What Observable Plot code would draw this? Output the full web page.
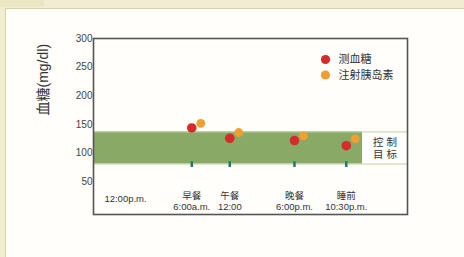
<!DOCTYPE html>
<html><head><meta charset="utf-8">
<script src="https://cdn.jsdelivr.net/npm/d3@7"></script>
<script src="https://cdn.jsdelivr.net/npm/@observablehq/plot@0.6"></script>
<style>
html,body{margin:0;padding:0;width:464px;height:257px;overflow:hidden;background:#f1edd3;}
#panel{position:absolute;left:5px;top:8px;width:458px;height:249px;background:#fffefa;border-left:1px solid #d8d2aa;border-top:1px solid #d8d2aa;}
#tab{position:absolute;left:0;top:0;width:44px;height:7px;background:#ebe6c4;}
#chart{position:absolute;left:0;top:0;}
</style></head>
<body>
<div id="tab"></div><div id="panel"></div>
<div id="chart"></div>
<script>
// Data
const slots = ["12:00p.m.", "早餐\n6:00a.m.", "午餐\n12:00", "晚餐\n6:00p.m.", "睡前\n10:30p.m."];
const slotPos = [10.2, 31.3, 43.4, 64.0, 80.5];
const measureSlots = [1, 2, 3, 4];
const glucose = [144, 126, 122, 113];
const insulin = [152, 136, 130, 125];
const seriesNames = ["测血糖", "注射胰岛素"];
const seriesColors = ["#d62b2b", "#f0a033"];
const targetLow = 81;
const targetHigh = 137;
const targetLabel = "控 制\n目 标";
const labelBoxStart = 85.7;
const yTicks = [50, 100, 150, 200, 250, 300];
const yLabel = "血糖(mg/dl)";

const font = "'Liberation Sans','Noto Sans CJK SC',sans-serif";
const pts = measureSlots.map((s, i) => ({x: slotPos[s], g: glucose[i], ins: insulin[i]}));
const labels = slots.map((t, i) => ({x: slotPos[i], t}));

const legendMarks = seriesNames.flatMap((name, i) => [
  Plot.dot([name], {frameAnchor: "top-right", dx: -82, dy: 21 + i * 15.5, r: 4.6, fill: seriesColors[i]}),
  Plot.text([name], {frameAnchor: "top-right", dx: -69, dy: 21 + i * 15.5, textAnchor: "start", lineAnchor: "middle", fontSize: 11, fill: "#333"})
]);

const plot = Plot.plot({
  width: 464, height: 257,
  marginLeft: 93, marginTop: 38, marginRight: 57, marginBottom: 43,
  style: {background: "transparent", fontFamily: font},
  x: {domain: [0, 100], axis: null},
  y: {domain: [-7, 300]},
  marks: [
    Plot.rect([{}], {x1: 0, x2: labelBoxStart, y1: targetLow, y2: targetHigh, fill: "#89a967"}),
    Plot.rect([{}], {x1: labelBoxStart, x2: 100, y1: targetLow, y2: targetHigh, fill: "#ffffff"}),
    Plot.ruleY([targetLow, targetHigh], {x1: 0, x2: 100, stroke: "#bfd1a2", strokeWidth: 1}),
    Plot.text([targetLabel], {x: (labelBoxStart + 100) / 2, y: (targetLow + targetHigh) / 2, fontSize: 10.5, fill: "#333", lineHeight: 1.2}),
    Plot.ruleX(pts, {x: "x", y1: 75, y2: 85, stroke: "#1c7d6b", strokeWidth: 2.5}),
    Plot.dot(pts, {x: "x", y: "ins", r: 4.4, fill: seriesColors[1], dx: 9}),
    Plot.dot(pts, {x: "x", y: "g", r: 4.8, fill: seriesColors[0]}),
    Plot.text(labels, {x: "x", text: "t", frameAnchor: "bottom", lineAnchor: "bottom", dy: -5, fontSize: 9.5, fill: "#333", lineHeight: 1.15,
      filter: d => d.t.includes("\n")}),
    Plot.text(labels, {x: "x", text: "t", frameAnchor: "bottom", lineAnchor: "middle", dy: -16, fontSize: 9.5, fill: "#333",
      filter: d => !d.t.includes("\n")}),
    Plot.axisY(yTicks, {tickSize: 0, tickPadding: 1, fontSize: 10, fill: "#444", label: null}),
    Plot.text([yLabel], {frameAnchor: "left", rotate: -90, dx: -50, dy: -11, fontSize: 14, fill: "#333"}),
    ...legendMarks,
    Plot.frame({stroke: "#555", strokeWidth: 1.6})
  ]
});
document.getElementById("chart").appendChild(plot);
</script>
</body></html>
